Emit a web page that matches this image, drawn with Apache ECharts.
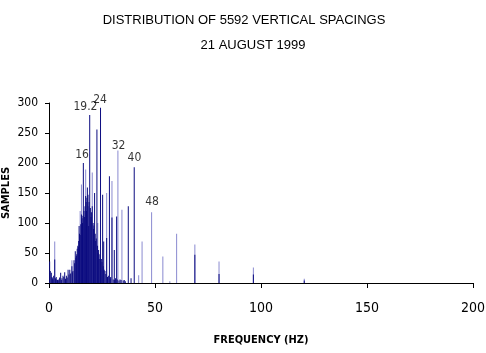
<!DOCTYPE html>
<html>
<head>
<meta charset="utf-8">
<script src="https://cdn.jsdelivr.net/npm/echarts@6/dist/echarts.min.js"></script>
<style>html,body{margin:0;padding:0;background:#fff}#c{width:486px;height:353px}</style>
</head>
<body>
<div id="c"></div>
<script>
// Frequency (Hz) / sample-count spikes
const darkFreq = [0.3,1.1,1.6,2.2,2.7,3.4,4.0,4.6,5.5,6.1,6.6,7.4,8.2,9.0,9.8,10.8,11.3,11.8,12.4,12.9,13.3,13.8,14.2,14.7,15.3,15.8,16.2,16.8,17.3,17.7,18.1,18.7,19.2,19.8,20.4,21.0,21.5,22.0,22.6,23.2,23.7,24.3,25.3,25.8,26.4,27.2,28.5,29.1,29.7,30.8,31.4,31.9,33.5,35.5,37.4,38.7,40.2,68.8,80.2,96.4,120.4];
const darkCount = [36,17,8,12,39,10,5,6,17,8,12,18,12,22,22,28,20,38,53,45,57,60,95,80,114,100,200,110,145,120,159,95,280,110,128,90,150,70,256,50,40,292,147,69,20,75,178,10,109,55,8,111,6,5,128,8,193,47,15,14,4];
// dense low-level mass between the main spikes
const fillFreq = [0.6,1.4,1.9,3.1,3.7,4.3,5.0,5.8,7.0,7.8,8.6,9.4,10.2,11.0,12.1,12.7,13.1,13.6,14.0,14.4,15.0,15.6,16.0,16.5,17.0,17.5,17.9,18.4,18.9,19.5,20.0,20.8,21.2,21.8,22.3,22.9,23.4,24.0,24.7,25.0,25.6,26.0,26.8,27.6,28.0,28.9,30.3,31.0,32.2,33.0,34.0,35.0,36.0];
const fillCount = [20,10,6,8,6,4,9,5,10,7,9,14,16,18,33,42,48,62,70,82,98,108,112,120,128,135,142,147,135,125,118,100,96,82,74,62,55,48,40,35,28,22,15,10,12,8,6,5,6,4,5,4,3];
const lightFreq = [2.7,10.8,14.7,15.3,17.3,18.7,20.4,23.0,27.2,29.7,32.5,34.4,42.3,43.9,48.4,53.7,57.0,60.2,68.8,80.2,96.4,120.4];
const lightCount = [69,38,120,164,189,128,184,100,150,170,221,122,13,69,118,44,3,82,64,36,26,7];
const peakLabels = ['16','19.2','24','32','40','48'];
const peakLabelFreq = [15.6,17.2,24.1,32.8,40.3,48.6];
const peakLabelCount = [213,293,306,229,208,136];
const xTicks = [0,50,100,150,200];
const yTicks = [0,50,100,150,200,250,300];

const zip = (a,b) => a.map((v,i)=>[v,b[i]]);
const narrow = 'DejaVu Sans Condensed, Liberation Sans Narrow, Arial Narrow, Liberation Sans, Arial, sans-serif';
const chart = echarts.init(document.getElementById('c'), null, {renderer:'canvas'});
chart.setOption({
  animation:false,
  backgroundColor:'#fff',
  title:[
    {text:'DISTRIBUTION OF 5592 VERTICAL SPACINGS', left:239, top:9, textAlign:'center',
     textStyle:{fontFamily:'Liberation Sans, Arial, sans-serif', fontSize:13, fontWeight:'normal', color:'#000'}},
    {text:'21 AUGUST 1999', left:248, top:34, textAlign:'center',
     textStyle:{fontFamily:'Liberation Sans, Arial, sans-serif', fontSize:13, fontWeight:'normal', color:'#000'}}
  ],
  grid:{left:49, right:13, top:103, bottom:70, containLabel:false, outerBoundsMode:'none'},
  xAxis:{type:'value', min:xTicks[0], max:xTicks[xTicks.length-1], interval:50,
    name:'FREQUENCY (HZ)', nameLocation:'middle', nameGap:52, nameMoveOverlap:false,
    nameTextStyle:{fontFamily:narrow, fontSize:11, fontWeight:'bold', color:'#000'},
    axisLine:{show:true, lineStyle:{color:'#000', width:1}},
    axisTick:{show:true, length:5, lineStyle:{color:'#000'}},
    axisLabel:{margin:18, fontFamily:narrow, fontSize:14, color:'#000'},
    splitLine:{show:false}},
  yAxis:{type:'value', min:yTicks[0], max:yTicks[yTicks.length-1], interval:50,
    name:'SAMPLES', nameLocation:'middle', nameGap:37, nameMoveOverlap:false,
    nameTextStyle:{fontFamily:narrow, fontSize:11, fontWeight:'bold', color:'#000'},
    axisLine:{show:true, lineStyle:{color:'#000', width:1}},
    axisTick:{show:true, length:4, lineStyle:{color:'#000'}},
    axisLabel:{margin:11, fontFamily:narrow, fontSize:12, color:'#000'},
    splitLine:{show:false}},
  series:[
    {type:'bar', name:'light', data:zip(lightFreq,lightCount), barWidth:1, barGap:'-100%',
     itemStyle:{color:'#8a8ad0'}, silent:true},
    {type:'bar', name:'fill', data:zip(fillFreq,fillCount), barWidth:1, barGap:'-100%',
     itemStyle:{color:'#0c0c80'}, silent:true},
    {type:'bar', name:'dark', data:zip(darkFreq,darkCount), barWidth:1, barGap:'-100%',
     itemStyle:{color:'#0c0c80'}, silent:true},
    {type:'scatter', data:peakLabelFreq.map((f,i)=>[f,peakLabelCount[i],peakLabels[i]]),
     symbolSize:0, silent:true, clip:false,
     label:{show:true, position:'inside', formatter:p=>p.value[2],
       fontFamily:narrow, fontSize:12, color:'#000'}}
  ]
});
</script>
</body>
</html>
